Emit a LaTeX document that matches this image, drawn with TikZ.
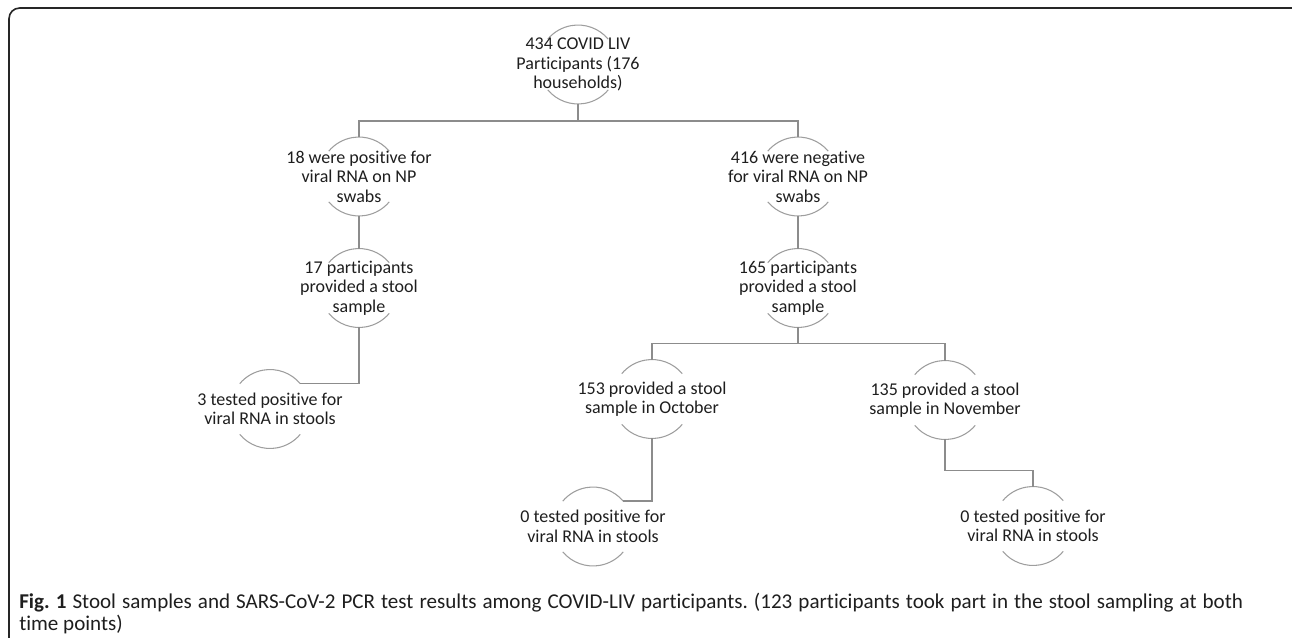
\documentclass[tikz,border=0pt]{standalone}
\usepackage{fontspec}
\setmainfont{Carlito}[Ligatures=NoCommon]
\usepackage{tikz}
\usepackage{xcolor}
\definecolor{rimgray}{RGB}{158,158,158}
\definecolor{linkgray}{RGB}{140,140,140}
\definecolor{inkgray}{RGB}{30,30,30}
\begin{document}
\begin{tikzpicture}[x=0.75pt,y=0.75pt,
ring/.style={circle,minimum size=59.2pt,inner sep=0pt,outer sep=0pt},
cell/.style={align=center,font=\fontsize{13.5}{14.6}\selectfont,text=inkgray,inner sep=0pt},
rim/.style={rimgray,line width=0.8pt},
link/.style={linkgray,line width=1pt}]
\useasboundingbox (0,0) rectangle (1292,-637);
\draw[black!85,line width=1.2pt,rounded corners=8pt](9,-8) rectangle (1305,-650);
\node[ring](top) at (578,-64.5){};
\node[ring](pos) at (359,-176.5){};
\node[ring](neg) at (798,-176.5){};
\node[ring](pos-s) at (359,-288){};
\node[ring](neg-s) at (798,-288){};
\node[ring](pos-r) at (270,-409){};
\node[ring](oct) at (652,-399){};
\node[ring](nov) at (945,-400){};
\node[ring](oct-r) at (593,-526.5){};
\node[ring](nov-r) at (1033,-526){};
\foreach \n in {top,pos,neg,pos-s,neg-s,pos-r,oct,nov,oct-r,nov-r}{
\draw[rim](\n.40) arc[start angle=40,end angle=140,radius=29.6pt];
\draw[rim](\n.220) arc[start angle=220,end angle=320,radius=29.6pt];
}
\node[cell](top-t) at (top){434 COVID LIV\\Participants (176\\households)};
\node[cell](pos-t) at (pos){18 were positive for\\viral RNA on NP\\swabs};
\node[cell](neg-t) at (neg){416 were negative\\for viral RNA on NP\\swabs};
\node[cell](pos-s-t) at (pos-s){17 participants\\provided a stool\\sample};
\node[cell](neg-s-t) at (neg-s){165 participants\\provided a stool\\sample};
\node[cell](pos-r-t) at (pos-r){3 tested positive for\\viral RNA in stools};
\node[cell](oct-t) at (oct){153 provided a stool\\sample in October};
\node[cell](nov-t) at (nov){135 provided a stool\\sample in November};
\node[cell](oct-r-t) at (oct-r){0 tested positive for\\viral RNA in stools};
\node[cell](nov-r-t) at (nov-r){0 tested positive for\\viral RNA in stools};
\draw[link](top.south)--++(0,-17)-|(pos.north);
\draw[link](top.south)--++(0,-17)-|(neg.north);
\draw[link](pos.south)--(pos-s.north);
\draw[link](neg.south)--(neg-s.north);
\draw[link](pos-s.south)|-(pos-r.40);
\draw[link](neg-s.south)--++(0,-16)-|(oct.north);
\draw[link](neg-s.south)--++(0,-16)-|(nov.north);
\draw[link](oct.south)|-(oct-r.40);
\draw[link](nov.south)--++(0,-31)-|(nov-r.north);
\node[anchor=base west,text width=918pt,align=justify,inner sep=0pt,text=inkgray,
font=\fontsize{15.8}{16.5}\selectfont\frenchspacing](caption) at (19,-608)
{\textbf{Fig. 1} Stool samples and SARS-CoV-2 PCR test results among COVID-LIV participants. (123 participants took part in the stool sampling at both\linebreak time points)};
\end{tikzpicture}
\end{document}
